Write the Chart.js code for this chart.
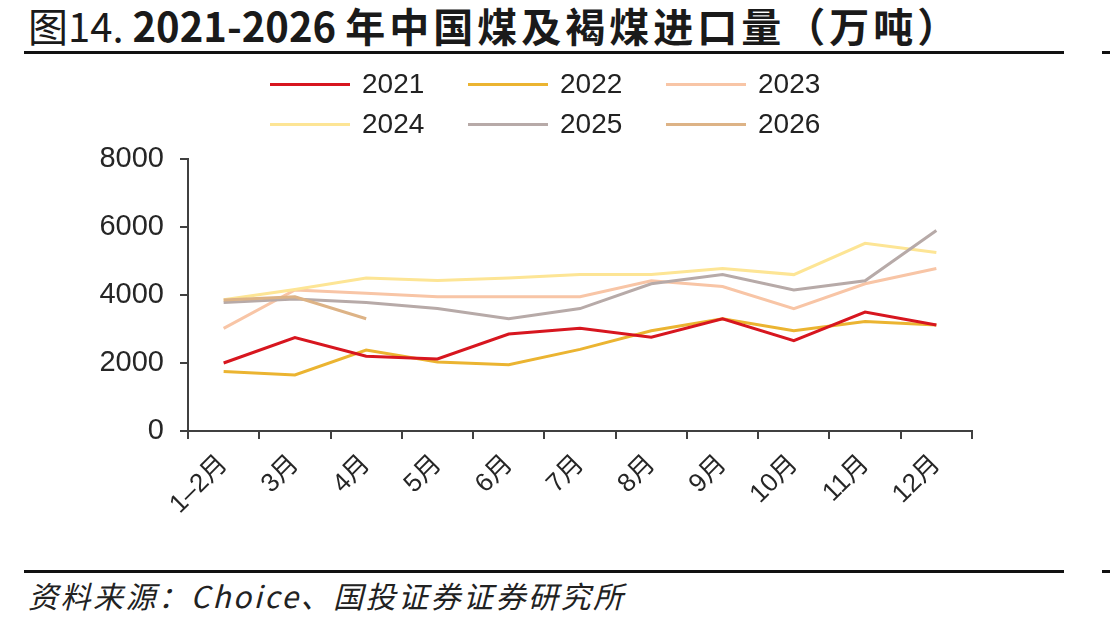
<!DOCTYPE html>
<html>
<head>
<meta charset="utf-8">
<script src="https://cdn.jsdelivr.net/npm/chart.js@4.4.1/dist/chart.umd.min.js"></script>
<style>
  html, body { margin: 0; padding: 0; background: #fff; }
  body { width: 1112px; height: 625px; position: relative; overflow: hidden; font-family: "Liberation Sans", "Noto Sans CJK SC", sans-serif; }
  .title { position: absolute; left: 28px; top: 0px; font-size: 40px; color: #1a1a1a; white-space: nowrap; font-family: "Noto Sans CJK SC", sans-serif; line-height: 50px; }
  .title b { font-weight: 700; }
  .title .cn { letter-spacing: 4px; }
  .rule { position: absolute; left: 24px; width: 1040px; height: 3px; background: #111; }
  .tick-mark { position: absolute; left: 1102px; width: 8px; height: 3px; background: #111; }
  .source { position: absolute; left: 28px; top: 573px; font-size: 30px; font-style: italic; color: #222; font-family: "Noto Sans CJK SC", sans-serif; white-space: nowrap; letter-spacing: 2.5px; }
  #legend { position: absolute; left: 270px; top: 66px; display: grid; grid-template-columns: 198px 198px 198px; row-gap: 4px; z-index: 2; }
  .lg-item { display: flex; align-items: center; height: 36px; font-size: 28px; color: #222; }
  .lg-line { width: 80px; height: 3px; margin-right: 12px; }
  #wrap { position: absolute; left: 0; top: 0; width: 1112px; height: 625px; }
</style>
</head>
<body>
<div class="title">图14. <b>2021-2026 <span class="cn">年中国煤及褐煤进口量（万吨）</span></b></div>
<div class="rule" style="top:51px"></div>
<div class="tick-mark" style="top:51px"></div>
<div class="rule" style="top:570px"></div>
<div class="tick-mark" style="top:570px"></div>
<div class="source">资料来源：Choice、国投证券证券研究所</div>
<div id="legend"></div>
<div id="wrap"><canvas id="c"></canvas></div>
<script>
// 月份
const months = ['1–2月', '3月', '4月', '5月', '6月', '7月', '8月', '9月', '10月', '11月', '12月'];
const yTicks = [0, 2000, 4000, 6000, 8000];

// 进口量（万吨），读图估计
const y2021 = [2000, 2750, 2200, 2120, 2850, 3020, 2760, 3300, 2660, 3500, 3120];
const y2022 = [1750, 1650, 2380, 2030, 1950, 2400, 2950, 3300, 2950, 3220, 3120];
const y2023 = [3020, 4150, 4050, 3950, 3950, 3950, 4420, 4250, 3600, 4330, 4780];
const y2024 = [3860, 4160, 4500, 4430, 4500, 4600, 4600, 4780, 4600, 5520, 5250];
const y2025 = [3780, 3880, 3780, 3600, 3300, 3600, 4330, 4600, 4150, 4420, 5900];
const y2026 = [3850, 3950, 3300];

const seriesNames  = ['2021', '2022', '2023', '2024', '2025', '2026'];
const seriesData   = [y2021, y2022, y2023, y2024, y2025, y2026];
const seriesColors = ['#D7161F', '#EBB431', '#F8C5A6', '#FDE595', '#B7AAA8', '#DDB386'];

const AXIS = '#404040';

const datasets = seriesNames.map((name, i) => ({
  label: name,
  data: seriesData[i],
  borderColor: seriesColors[i],
  backgroundColor: seriesColors[i],
  borderWidth: 3,
  pointRadius: 0,
  tension: 0,
  fill: false,
  order: i === 0 ? 0 : (i === 1 ? 1 : 10 - i)
}));

// HTML 图例（三列两行）
const legendEl = document.getElementById('legend');
legendEl.innerHTML = seriesNames.map((n, i) => `
  <div class="lg-item"><span class="lg-line" style="background:${seriesColors[i]}"></span>${n}</div>
`).join('');

new Chart(document.getElementById('c'), {
  type: 'line',
  data: { labels: months, datasets },
  options: {
    responsive: true,
    maintainAspectRatio: false,
    animation: false,
    layout: { padding: { left: 0, top: 159, right: 140, bottom: 84 } },
    plugins: { legend: { display: false }, tooltip: { enabled: false } },
    scales: {
      x: {
        offset: true,
        grid: { display: true, drawOnChartArea: false, color: AXIS, lineWidth: 2, tickLength: 8, offset: true },
        border: { color: AXIS, width: 2 },
        ticks: {
          color: '#262626',
          font: { size: 26, family: 'Liberation Sans, Noto Sans CJK SC' },
          maxRotation: 45, minRotation: 45, padding: 10, autoSkip: false
        },
        afterFit: s => { s.height = 110; }
      },
      y: {
        min: 0, max: 8000,
        afterBuildTicks: s => { s.ticks = yTicks.map(v => ({ value: v })); },
        grid: { display: true, drawOnChartArea: false, color: AXIS, lineWidth: 2, tickLength: 8 },
        border: { color: AXIS, width: 2 },
        ticks: {
          color: '#262626',
          font: { size: 29, family: 'Liberation Sans' },
          padding: 16,
          callback: v => String(v)
        },
        afterFit: s => { s.width = 188; }
      }
    }
  }
});
</script>
</body>
</html>
